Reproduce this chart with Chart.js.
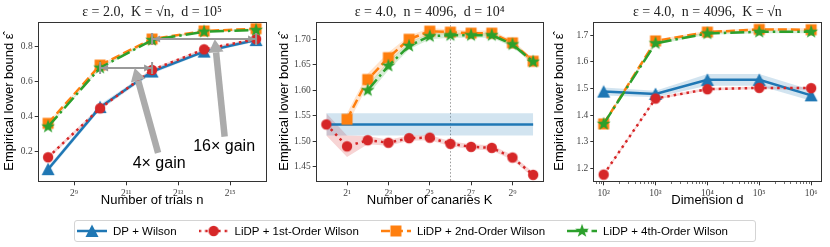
<!DOCTYPE html>
<html>
<head>
<meta charset="utf-8">
<script src="https://cdn.jsdelivr.net/npm/chart.js@4.4.1/dist/chart.umd.min.js"></script>
<style>
  body { margin: 0; background: #fff; width: 830px; height: 247px; position: relative; overflow: hidden; }
  canvas { position: absolute; }
  #legendBox { position: absolute; left: 74px; top: 220px; width: 680px; height: 20px; border: 1px solid #d4d4d4; border-radius: 3px; }
</style>
</head>
<body>
<div id="legendBox"></div>
<canvas id="c1" width="275" height="212" style="left:0;top:0"></canvas>
<canvas id="c2" width="277" height="212" style="left:275px;top:0"></canvas>
<canvas id="c3" width="280" height="212" style="left:550px;top:0"></canvas>
<canvas id="leg" width="830" height="35" style="left:0;top:212px"></canvas>
<script>
// ================================
// DATA
// ================================
const seriesNames = ["DP + Wilson", "LiDP + 1st-Order Wilson", "LiDP + 2nd-Order Wilson", "LiDP + 4th-Order Wilson"];

// panel 1 : eps = 2.0, K = sqrt(n), d = 1e5
const trials   = [256, 1024, 4096, 16384, 65536];
const p1Dp     = [0.100, 0.455, 0.658, 0.772, 0.838];
const p1Lidp1  = [0.168, 0.448, 0.667, 0.785, 0.844];
const p1Lidp2  = [0.362, 0.695, 0.844, 0.890, 0.903];
const p1Lidp4  = [0.343, 0.680, 0.838, 0.886, 0.895];
const p1DpErr    = [0.016, 0.016, 0.012, 0.010, 0.010];
const p1Lidp1Err = [0.010, 0.010, 0.008, 0.006, 0.006];
const p1Lidp2Err = [0.006, 0.006, 0.005, 0.004, 0.004];
const p1Lidp4Err = [0.006, 0.006, 0.005, 0.004, 0.004];
const p1XTicks = [512, 2048, 8192, 32768];
const p1YTicks = [0.2, 0.4, 0.6, 0.8];

// panel 2 : eps = 4.0, n = 4096, d = 1e4
const canaries = [1, 2, 4, 8, 16, 32, 64, 128, 256, 512, 1024];
const p2Dp     = [1.533, 1.533, 1.533, 1.533, 1.533, 1.533, 1.533, 1.533, 1.533, 1.533, 1.533];
const p2Lidp1  = [1.533, 1.490, 1.502, 1.497, 1.506, 1.507, 1.495, 1.489, 1.487, 1.468, 1.434];
const p2Lidp2  = [null, 1.543, 1.621, 1.664, 1.700, 1.716, 1.714, 1.712, 1.712, 1.693, 1.657];
const p2Lidp4  = [null, null, 1.600, 1.648, 1.687, 1.706, 1.708, 1.708, 1.708, 1.690, 1.656];
const p2DpErr    = [0.022, 0.022, 0.022, 0.022, 0.022, 0.022, 0.022, 0.022, 0.022, 0.022, 0.022];
const p2Lidp1Err = [0.022, 0.021, 0.008, 0.006, 0.005, 0.005, 0.005, 0.005, 0.005, 0.005, 0.005];
const p2Lidp2Err = [null, 0.012, 0.012, 0.010, 0.007, 0.006, 0.005, 0.005, 0.005, 0.005, 0.005];
const p2Lidp4Err = [null, null, 0.010, 0.009, 0.007, 0.006, 0.005, 0.005, 0.005, 0.005, 0.005];
const p2XTicks = [2, 8, 32, 128, 512];
const p2YTicks = [1.45, 1.50, 1.55, 1.60, 1.65, 1.70];
const sqrtN = 64;

// panel 3 : eps = 4.0, n = 4096, K = sqrt(n)
const dims     = [1e2, 1e3, 1e4, 1e5, 1e6];
const p3Dp     = [1.488, 1.479, 1.532, 1.532, 1.474];
const p3Lidp1  = [1.177, 1.462, 1.497, 1.502, 1.501];
const p3Lidp2  = [1.367, 1.678, 1.711, 1.721, 1.720];
const p3Lidp4  = [1.367, 1.669, 1.706, 1.712, 1.712];
const p3DpErr    = [0.015, 0.012, 0.022, 0.022, 0.020];
const p3Lidp1Err = [0.005, 0.005, 0.005, 0.005, 0.005];
const p3Lidp2Err = [0.005, 0.005, 0.005, 0.005, 0.005];
const p3Lidp4Err = [0.005, 0.005, 0.005, 0.005, 0.005];
const p3XTicks = [1e2, 1e3, 1e4, 1e5, 1e6];
const p3YTicks = [1.2, 1.3, 1.4, 1.5, 1.6, 1.7];

// ================================
// STYLE
// ================================
const SANS = "'Liberation Sans', 'DejaVu Sans', sans-serif";
const SERIF = "'Liberation Serif', 'DejaVu Serif', serif";
const INK = "#222";

const looks = [
  { color: "#1f77b4", band: "rgba(31,119,180,0.2)",  dash: [],              marker: "tri"  },
  { color: "#d62728", band: "rgba(214,39,40,0.2)",   dash: [2.5, 4],        marker: "dot"  },
  { color: "#ff7f0e", band: "rgba(255,127,14,0.2)",  dash: [9, 4],          marker: "sq"   },
  { color: "#2ca02c", band: "rgba(44,160,44,0.2)",   dash: [14, 4, 2.5, 4], marker: "star" }
];

function markerImg(kind, color, handle, dash) {
  const h = 16, w = handle || 16;
  const c = document.createElement("canvas");
  c.width = w; c.height = h;
  const g = c.getContext("2d");
  const cx = w / 2, cy = h / 2;
  if (handle) {
    g.strokeStyle = color; g.lineWidth = 2.5; g.setLineDash(dash);
    g.beginPath(); g.moveTo(0, cy); g.lineTo(w, cy); g.stroke();
    g.setLineDash([]);
  }
  g.fillStyle = color;
  g.beginPath();
  if (kind === "tri") {
    g.moveTo(cx, cy - 6.5); g.lineTo(cx + 6.5, cy + 6); g.lineTo(cx - 6.5, cy + 6);
  } else if (kind === "dot") {
    g.arc(cx, cy, 5.2, 0, Math.PI * 2);
  } else if (kind === "sq") {
    g.rect(cx - 5.5, cy - 5.5, 11, 11);
  } else {
    for (let i = 0; i < 10; i++) {
      const r = i % 2 ? 2.9 : 7.2;
      const a = -Math.PI / 2 + i * Math.PI / 5;
      g.lineTo(cx + r * Math.cos(a), cy + r * Math.sin(a));
    }
  }
  g.closePath();
  g.fill();
  return c;
}

const plotMarks = looks.map(l => markerImg(l.marker, l.color));
const legendMarks = looks.map(l => markerImg(l.marker, l.color, 30, l.dash));

// ============================
// DATASETS
// ============================
function pts(xs, ys) {
  return xs.map((x, i) => ({ x: x, y: ys[i] }));
}

function series(xs, ys, errs, k, showMarks) {
  const lo = xs.map((x, i) => ({ x: x, y: ys[i] == null ? null : ys[i] - errs[i] }));
  const hi = xs.map((x, i) => ({ x: x, y: ys[i] == null ? null : ys[i] + errs[i] }));
  return [
    { data: lo, borderWidth: 0, pointRadius: 0, fill: false, order: 10 },
    { data: hi, borderWidth: 0, pointRadius: 0, fill: "-1", backgroundColor: looks[k].band, order: 10 },
    {
      label: seriesNames[k],
      data: pts(xs, ys),
      borderColor: looks[k].color,
      borderWidth: 2.5,
      borderDash: looks[k].dash,
      pointStyle: plotMarks[k],
      pointRadius: showMarks ? 6 : 0,
      fill: false,
      order: 4 - k
    }
  ];
}

// ============================
// PLUGINS
// ============================
const framePlugin = {
  id: "frame",
  afterDraw(chart) {
    const a = chart.chartArea, g = chart.ctx;
    g.save();
    g.strokeStyle = "#333"; g.lineWidth = 1;
    g.strokeRect(Math.round(a.left) + 0.5, Math.round(a.top) + 0.5,
      Math.round(a.right) - Math.round(a.left) - 1, Math.round(a.bottom) - Math.round(a.top) - 1);
    g.restore();
  }
};

// short unlabeled ticks between the decades of panel 3
const minorTicks = {
  id: "minorTicks",
  afterDraw(chart) {
    const g = chart.ctx, sx = chart.scales.x, a = chart.chartArea;
    const y = Math.round(a.bottom);
    g.save();
    g.strokeStyle = "#333"; g.lineWidth = 0.7;
    for (let e = 1; e <= 6; e++) {
      for (let m = 2; m <= 9; m++) {
        const v = m * Math.pow(10, e);
        if (v < sx.min || v > sx.max) continue;
        const x = Math.round(sx.getPixelForValue(v)) + 0.5;
        g.beginPath(); g.moveTo(x, y); g.lineTo(x, y + 2); g.stroke();
      }
    }
    g.restore();
  }
};

function fatArrow(g, x0, y0, x1, y1) {
  const ang = Math.atan2(y1 - y0, x1 - x0);
  const hl = 13, hw = 7.5;
  const bx = x1 - hl * Math.cos(ang), by = y1 - hl * Math.sin(ang);
  g.strokeStyle = "#ababab"; g.fillStyle = "#ababab"; g.lineWidth = 6.5;
  g.beginPath(); g.moveTo(x0, y0); g.lineTo(bx, by); g.stroke();
  g.beginPath();
  g.moveTo(x1, y1);
  g.lineTo(bx + hw * Math.sin(ang), by - hw * Math.cos(ang));
  g.lineTo(bx - hw * Math.sin(ang), by + hw * Math.cos(ang));
  g.closePath(); g.fill();
}

function spanArrow(g, xa, xb, y) {
  g.strokeStyle = "#999"; g.fillStyle = "#999"; g.lineWidth = 2;
  g.beginPath(); g.moveTo(xa, y); g.lineTo(xb, y); g.stroke();
  g.beginPath(); g.moveTo(xa, y - 6); g.lineTo(xa, y + 6); g.moveTo(xb, y - 6); g.lineTo(xb, y + 6); g.stroke();
  g.beginPath(); g.moveTo(xa + 1, y); g.lineTo(xa + 8, y - 3.5); g.lineTo(xa + 8, y + 3.5); g.closePath(); g.fill();
  g.beginPath(); g.moveTo(xb - 1, y); g.lineTo(xb - 8, y - 3.5); g.lineTo(xb - 8, y + 3.5); g.closePath(); g.fill();
}

// gain annotations on panel 1 (data coordinates)
const gains = [
  { from: 1024, to: 4096, y: 0.678, head: [Math.pow(2, 11.33), 0.678], tail: [Math.pow(2, 12.23), 0.193],
    text: "4× gain", at: [Math.pow(2, 12.27), 0.13] },
  { from: 4096, to: 65536, y: 0.844, head: [Math.pow(2, 14.41), 0.842], tail: [Math.pow(2, 14.79), 0.286],
    text: "16× gain", at: [Math.pow(2, 14.77), 0.227] }
];

const gainPlugin = {
  id: "gain",
  afterDatasetsDraw(chart) {
    const g = chart.ctx, sx = chart.scales.x, sy = chart.scales.y;
    g.save();
    gains.forEach(a => {
      spanArrow(g, sx.getPixelForValue(a.from), sx.getPixelForValue(a.to), sy.getPixelForValue(a.y));
      fatArrow(g, sx.getPixelForValue(a.tail[0]), sy.getPixelForValue(a.tail[1]),
        sx.getPixelForValue(a.head[0]), sy.getPixelForValue(a.head[1]));
      g.fillStyle = "#000";
      g.font = "16px " + SANS;
      g.textAlign = "center"; g.textBaseline = "middle";
      g.fillText(a.text, sx.getPixelForValue(a.at[0]), sy.getPixelForValue(a.at[1]));
    });
    g.restore();
  }
};

const vlinePlugin = {
  id: "vline",
  beforeDatasetsDraw(chart) {
    const g = chart.ctx, a = chart.chartArea;
    const x = Math.round(chart.scales.x.getPixelForValue(sqrtN)) + 0.5;
    g.save();
    g.strokeStyle = "#999"; g.lineWidth = 1; g.setLineDash([1.5, 2]);
    g.beginPath(); g.moveTo(x, a.top); g.lineTo(x, a.bottom); g.stroke();
    g.restore();
  }
};

// hand-drawn legend row (handle line + marker, then the label)
const legendRow = {
  id: "legendRow",
  afterDraw(chart) {
    const g = chart.ctx;
    const cy = 19;
    let x = 77;
    g.save();
    g.font = "11.5px " + SANS;
    g.fillStyle = "#000";
    g.textBaseline = "middle";
    chart.data.datasets.forEach((d, i) => {
      g.drawImage(legendMarks[i], x, cy - 8);
      const tx = x + 36;
      g.fillText(d.label, tx, cy + 0.5);
      x = tx + g.measureText(d.label).width + 22;
    });
    g.restore();
  }
};

// ============================
// PANELS
// ============================
const SUP = "⁰¹²³⁴⁵⁶⁷⁸⁹";
function sup(n) {
  return String(n).split("").map(ch => SUP[+ch]).join("");
}

function panel(id, cfg) {
  return new Chart(document.getElementById(id), {
    type: "line",
    data: { datasets: cfg.datasets },
    options: {
      responsive: false,
      animation: false,
      events: [],
      spanGaps: false,
      layout: { padding: { left: 0, right: cfg.padRight, top: 0, bottom: 0 } },
      plugins: {
        legend: { display: false },
        tooltip: { enabled: false },
        title: {
          display: true, text: cfg.title, fullSize: false, color: INK,
          font: { family: SERIF, size: 14, weight: "normal", lineHeight: 1.2 },
          padding: { top: 4, bottom: 0.9 }
        }
      },
      scales: {
        x: {
          type: "logarithmic", min: cfg.xMin, max: cfg.xMax,
          afterBuildTicks: s => { s.ticks = cfg.xTicks.map(v => ({ value: v })); },
          afterFit: s => { s.height = 29.7; },
          ticks: { callback: cfg.xLabel, autoSkip: false, maxRotation: 0, padding: 2, color: "#444",
            font: { family: SERIF, size: 9.5 } },
          grid: { drawOnChartArea: false, tickLength: 3, tickColor: "#333" },
          border: { display: false },
          title: { display: true, text: cfg.xTitle, color: "#000", padding: { top: 0, bottom: 4 },
            font: { family: SANS, size: 13, lineHeight: 1.2 } }
        },
        y: {
          type: "linear", min: cfg.yMin, max: cfg.yMax,
          afterBuildTicks: s => { s.ticks = cfg.yTicks.map(v => ({ value: v })); },
          afterFit: s => { s.width = cfg.yWidth; },
          ticks: { callback: v => v.toFixed(cfg.yDec), padding: 2, color: "#444",
            font: { family: SERIF, size: 9.5 } },
          grid: { drawOnChartArea: false, tickLength: 3, tickColor: "#333" },
          border: { display: false },
          title: { display: true, text: "Empirical lower bound ε̂", color: "#000", padding: { top: 2, bottom: 0 },
            font: { family: SANS, size: 13, lineHeight: 1.2 } }
        }
      }
    },
    plugins: [framePlugin].concat(cfg.extra || [])
  });
}

panel("c1", {
  title: "ε = 2.0,  K = √n,  d = 10⁵",
  datasets: [].concat(
    series(trials, p1Dp, p1DpErr, 0, true),
    series(trials, p1Lidp1, p1Lidp1Err, 1, true),
    series(trials, p1Lidp2, p1Lidp2Err, 2, true),
    series(trials, p1Lidp4, p1Lidp4Err, 3, true)
  ),
  xMin: Math.pow(2, 7.6), xMax: Math.pow(2, 16.4), xTicks: p1XTicks,
  xLabel: v => "2" + sup(Math.round(Math.log2(v))),
  xTitle: "Number of trials n",
  yMin: 0.025, yMax: 0.943, yTicks: p1YTicks, yDec: 1,
  yWidth: 37.7, padRight: 6,
  extra: [gainPlugin]
});

panel("c2", {
  title: "ε = 4.0,  n = 4096,  d = 10⁴",
  datasets: [].concat(
    series(canaries, p2Dp, p2DpErr, 0, false),
    series(canaries, p2Lidp1, p2Lidp1Err, 1, true),
    series(canaries, p2Lidp2, p2Lidp2Err, 2, true),
    series(canaries, p2Lidp4, p2Lidp4Err, 3, true)
  ),
  xMin: Math.pow(2, -0.5), xMax: Math.pow(2, 10.5), xTicks: p2XTicks,
  xLabel: v => "2" + sup(Math.round(Math.log2(v))),
  xTitle: "Number of canaries K",
  yMin: 1.4194, yMax: 1.7345, yTicks: p2YTicks, yDec: 2,
  yWidth: 40.7, padRight: 5.3,
  extra: [vlinePlugin]
});

panel("c3", {
  title: "ε = 4.0,  n = 4096,  K = √n",
  datasets: [].concat(
    series(dims, p3Dp, p3DpErr, 0, true),
    series(dims, p3Lidp1, p3Lidp1Err, 1, true),
    series(dims, p3Lidp2, p3Lidp2Err, 2, true),
    series(dims, p3Lidp4, p3Lidp4Err, 3, true)
  ),
  xMin: Math.pow(10, 1.8), xMax: Math.pow(10, 6.2), xTicks: p3XTicks,
  xLabel: v => "10" + sup(Math.round(Math.log10(v))),
  xTitle: "Dimension d",
  yMin: 1.148, yMax: 1.750, yTicks: p3YTicks, yDec: 1,
  yWidth: 43.3, padRight: 6,
  extra: [minorTicks]
});

// ============================
// LEGEND
// ============================
new Chart(document.getElementById("leg"), {
  type: "line",
  data: { datasets: seriesNames.map(name => ({ label: name, data: [] })) },
  options: {
    responsive: false,
    animation: false,
    events: [],
    scales: { x: { display: false }, y: { display: false } },
    plugins: { legend: { display: false }, tooltip: { enabled: false } }
  },
  plugins: [legendRow]
});
</script>
</body>
</html>
